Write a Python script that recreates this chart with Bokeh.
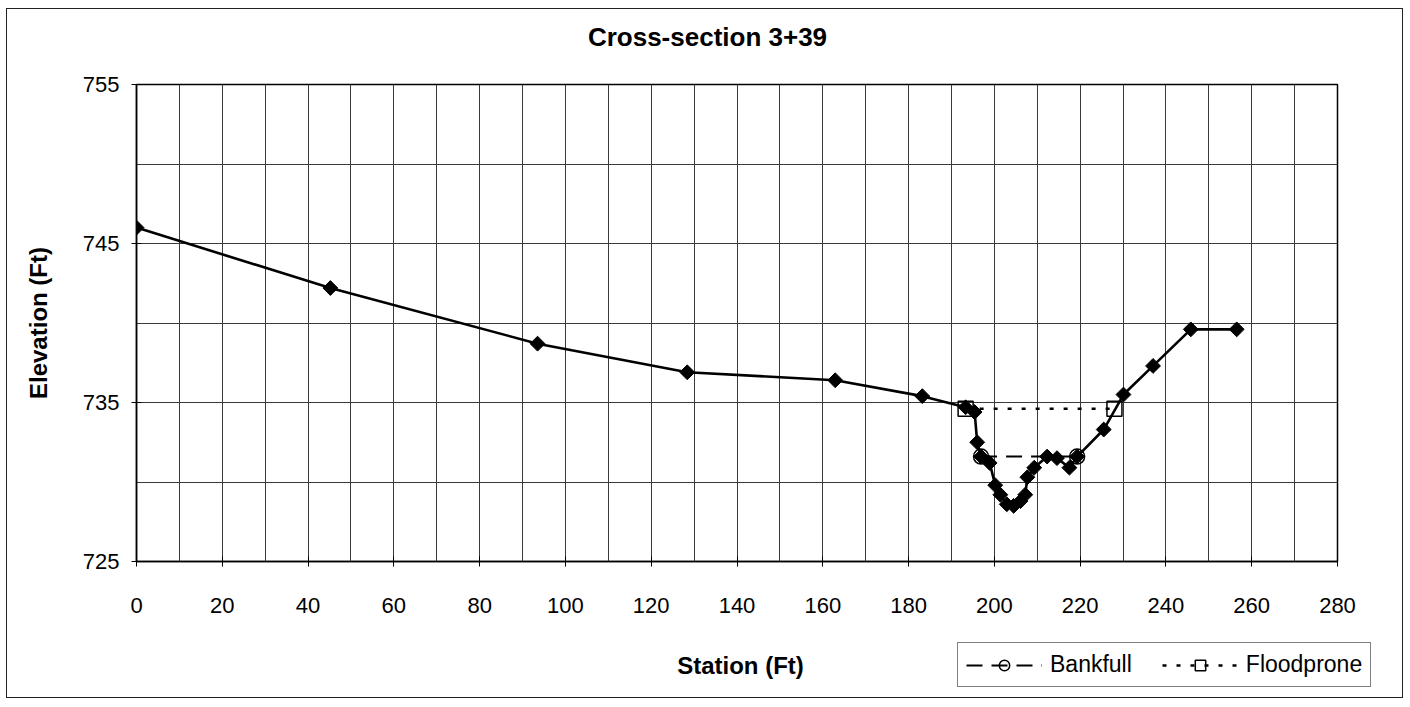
import numpy as np
from bokeh.plotting import figure
from bokeh.layouts import column
from bokeh.models import FixedTicker, Range1d, Legend, LegendItem, Label
from bokeh.embed import file_html
from bokeh.resources import INLINE

# Ground profile
station = [0, 45.2, 93.5, 128.4, 162.9, 183.2, 193.3, 195.4, 196.0, 196.9, 198.9,
           200.2, 201.4, 202.9, 204.5, 206.1, 207.2, 207.7, 209.3, 212.3, 214.6,
           217.5, 219.3, 225.5, 230.1, 237.0, 245.8, 256.5]
elevation = [746.0, 742.2, 738.7, 736.9, 736.4, 735.4, 734.7, 734.4, 732.5, 731.6, 731.2,
             729.8, 729.2, 728.6, 728.5, 728.8, 729.2, 730.3, 730.9, 731.6, 731.5,
             730.9, 731.6, 733.3, 735.5, 737.3, 739.6, 739.6]

bankfull_x = [196.9, 219.3]
bankfull_y = [731.6, 731.6]
flood_x = [193.3, 228.0]
flood_y = [734.6, 734.6]

x_labels = list(range(0, 281, 20))
x_grid = list(range(0, 281, 10))
y_labels = [725, 735, 745, 755]
y_grid = list(range(725, 756, 5))

TITLE = "Cross-section 3+39"
X_TITLE = "Station (Ft)"
Y_TITLE = "Elevation (Ft)"

FONT = "Liberation Sans"
W = 1395


def strip(height):
    f = figure(width=W, height=height, output_backend="svg", toolbar_location=None,
               x_range=Range1d(0, W), y_range=Range1d(0, height),
               x_axis_type=None, y_axis_type=None, min_border=0, frame_align=False)
    f.outline_line_color = None
    f.xgrid.visible = False
    f.ygrid.visible = False
    return f


# --- title strip ---
top = strip(60)
top.add_layout(Label(x=700, y=33, text=TITLE, text_align="center", text_baseline="middle",
                     text_font=FONT, text_font_size="26px", text_font_style="bold",
                     text_color="black"))

# --- main plot ---
p = figure(width=W, height=562, output_backend="svg", toolbar_location=None,
           x_range=Range1d(0, 280), y_range=Range1d(725, 755),
           min_border_left=129, min_border_right=65, min_border_top=15, min_border_bottom=70)

p.outline_line_color = "black"
p.outline_line_width = 1.5

for ax in (p.xaxis[0], p.yaxis[0]):
    ax.axis_line_color = "black"
    ax.axis_line_width = 1.5
    ax.major_tick_in = 5
    ax.major_tick_out = 5
    ax.minor_tick_in = 0
    ax.minor_tick_out = 0
    ax.major_label_text_font = FONT
    ax.major_label_text_font_size = "22px"
    ax.major_label_text_color = "black"
    ax.axis_label_text_font = FONT
    ax.axis_label_text_font_size = "24px"
    ax.axis_label_text_font_style = "bold"
    ax.axis_label_text_color = "black"

p.xaxis.ticker = FixedTicker(ticks=x_labels)
p.yaxis.ticker = FixedTicker(ticks=y_labels)
p.yaxis.axis_label = Y_TITLE
p.xaxis.major_label_standoff = 31
p.yaxis.major_label_standoff = 12
p.yaxis.axis_label_standoff = 28

p.xgrid.ticker = FixedTicker(ticks=x_grid)
p.ygrid.ticker = FixedTicker(ticks=y_grid)
for g in (p.xgrid[0], p.ygrid[0]):
    g.grid_line_color = "#3a3a3a"
    g.grid_line_width = 1

# ground
p.line(station, elevation, line_color="black", line_width=2.6)
p.scatter(station, elevation, marker="square", angle=np.pi / 4, size=10.5,
          fill_color="black", line_color="black")

BF_LINE = dict(line_color="black", line_width=2, line_dash="16 9")
BF_MARK = dict(marker="circle", size=15, fill_alpha=0, line_color="black", line_width=1.5)
FP_LINE = dict(line_color="black", line_width=2.5, line_dash="4 10")
FP_MARK = dict(marker="square", size=15, fill_alpha=0, line_color="black", line_width=1.5)

p.line(bankfull_x, bankfull_y, **BF_LINE)
p.scatter(bankfull_x, bankfull_y, **BF_MARK)
p.line(flood_x, flood_y, **FP_LINE)
p.scatter(flood_x, flood_y, **FP_MARK)

# --- bottom strip: x title + legend ---
bot = strip(66)
bot.add_layout(Label(x=733, y=32, text=X_TITLE, text_align="center", text_baseline="middle",
                     text_font=FONT, text_font_size="24px", text_font_style="bold",
                     text_color="black"))
# legend proxies, placed outside the visible strip range
off = [-500, -400]
lbl = bot.line(off, off, **BF_LINE)
lbm = bot.scatter(off, off, **BF_MARK)
lfl = bot.line(off, off, **FP_LINE)
lfm = bot.scatter(off, off, **FP_MARK)

legend = Legend(items=[LegendItem(label="Bankfull", renderers=[lbl, lbm]),
                       LegendItem(label="Floodprone", renderers=[lfl, lfm])],
                orientation="horizontal", location=(950, 10))
legend.label_text_font = FONT
legend.label_text_font_size = "23px"
legend.label_text_color = "black"
legend.glyph_width = 76
legend.glyph_height = 26
legend.label_standoff = 8
legend.spacing = 30
legend.padding = 8
legend.margin = 0
legend.border_line_color = "black"
legend.border_line_width = 1
legend.background_fill_color = "white"
legend.background_fill_alpha = 1
bot.add_layout(legend, "center")

layout = column(top, p, bot, spacing=0,
                styles={"border": "1px solid #222", "margin-left": "6px", "margin-top": "8px"})

open("out.html", "w").write(file_html(layout, INLINE))
